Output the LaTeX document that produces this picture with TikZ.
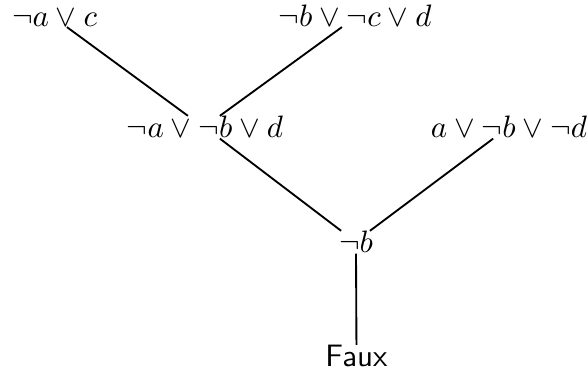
\documentclass[tikz,border=0pt]{standalone}
\usepackage{amsmath}
\usetikzlibrary{positioning}
\begin{document}
\begin{tikzpicture}[clause/.style={inner sep=0pt,anchor=base},res/.style={semithick}]
\useasboundingbox (0,0) rectangle (6.658,4.253);
\node[clause] (c1) at (0.618,3.953){$\neg a\vee c$};
\node[clause] (c2) at (4.026,3.953){$\neg b\vee\neg c\vee d$};
\node[clause] (r1) at (2.325,2.688){$\neg a\vee\neg b\vee d$};
\node[clause] (c3) at (5.773,2.688){$a\vee\neg b\vee\neg d$};
\node[clause] (r2) at (4.038,1.384){$\neg b$};
\node[clause, font=\sffamily] (faux) at (4.043,0.091){Faux};
\draw[res] ([xshift=4pt]c1.south) -- ([xshift=-5.5pt]r1.north);\draw[res] ([xshift=-4.2pt]c2.south) -- ([xshift=4.8pt]r1.north);\draw[res] ([xshift=4.8pt]r1.south) -- ([xshift=-4.8pt]r2.north);\draw[res] ([xshift=-5.1pt]c3.south) -- ([xshift=4.5pt]r2.north);\draw[res] (r2.south) -- (faux.north);
\end{tikzpicture}
\end{document}
